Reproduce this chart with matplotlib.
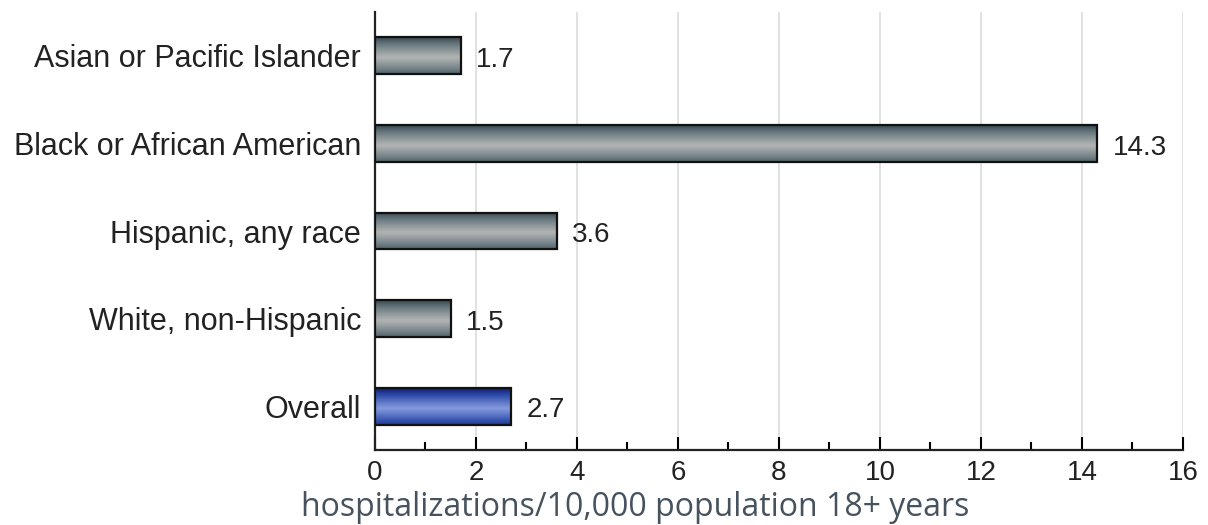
import numpy as np
import matplotlib
matplotlib.use('Agg')
from matplotlib import pyplot as plt
from matplotlib.colors import LinearSegmentedColormap


groups = ['Asian or Pacific Islander', 'Black or African American',
          'Hispanic, any race', 'White, non-Hispanic', 'Overall']
rates = [1.7, 14.3, 3.6, 1.5, 2.7]
labels = ['1.7', '14.3', '3.6', '1.5', '2.7']
xticks = [0, 2, 4, 6, 8, 10, 12, 14, 16]

# cylinder shading: dark edge -> light middle
gray_cmap = LinearSegmentedColormap.from_list('g', ['#2f4048', '#6e7d83', '#b2b4b4'])
blue_cmap = LinearSegmentedColormap.from_list('b', ['#08166a', '#3451ae', '#8599dd'])

fig = plt.figure(figsize=(12.08, 5.25), dpi=100)
ax = fig.add_axes([0.3104, 1 - 450 / 525, 0.9793 - 0.3104, (450 - 12) / 525])

bar_h = 0.42
t = np.linspace(0, 1, 80)
prof = np.clip(1 - np.abs(t - 0.55) / 0.55, 0, 1) ** 0.75
grad = prof.reshape(-1, 1)

ypos = np.arange(len(groups))
for i, (g, v) in enumerate(zip(groups, rates)):
    cmap = blue_cmap if g == 'Overall' else gray_cmap
    ax.imshow(grad, extent=[0, v, i + bar_h / 2, i - bar_h / 2], origin='upper',
              aspect='auto', cmap=cmap, vmin=0, vmax=1, zorder=3, interpolation='bilinear')
ax.barh(ypos, rates, height=bar_h, facecolor='none', edgecolor='#111111',
        linewidth=1.6, zorder=4)

for i, (v, lab) in enumerate(zip(rates, labels)):
    ax.annotate(lab, xy=(v, i), xytext=(11, -3), textcoords='offset points',
                va='center', ha='left', fontsize=20, family='Liberation Sans',
                color='#222222')

ax.set_xlim(0, 16)
ax.set_ylim(4.5, -0.5)
ax.set_yticks(ypos)
ax.set_yticklabels(groups, fontsize=22, family='Liberation Sans', color='#222222')
ax.tick_params(axis='y', length=0, pad=10)
ax.set_xticks(xticks)
ax.set_xticklabels([str(x) for x in xticks], fontsize=20, family='Liberation Sans',
                   color='#222222')
ax.set_xticks(np.arange(1, 16, 2), minor=True)
ax.tick_params(axis='x', which='major', direction='in', length=9.5, width=1.5, pad=7)
ax.tick_params(axis='x', which='minor', direction='in', length=6, width=1.5)

ax.grid(axis='x', color='#dcdcdc', linewidth=1.2, zorder=0)
ax.set_axisbelow(True)
for s in ['top', 'right']:
    ax.spines[s].set_visible(False)
ax.spines['left'].set_linewidth(1.6)
ax.spines['bottom'].set_linewidth(1.6)
ax.spines['left'].set_color('#222222')
ax.spines['bottom'].set_color('#222222')

fig.text(635 / 1208, 1 - 508 / 525, 'hospitalizations/10,000 population 18+ years',
         fontsize=23, family='Open Sans', color='#46525e', ha='center', va='center')

fig.savefig('out.png', dpi=100)
